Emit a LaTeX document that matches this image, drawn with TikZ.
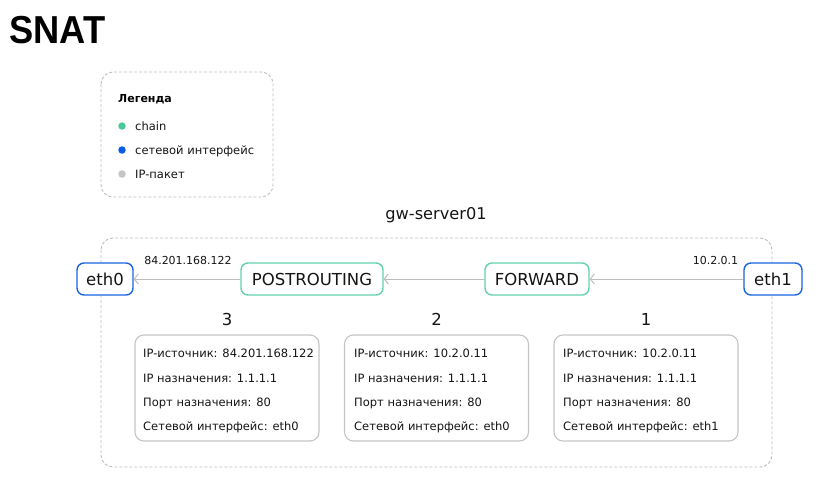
\documentclass[tikz,border=0pt]{standalone}
\usepackage{fontspec}
\usepackage{graphicx}
\setmainfont{DejaVu Sans}
\newfontfamily\titlefont{Liberation Sans}
\usetikzlibrary{arrows.meta}
\definecolor{chaingreen}{HTML}{63D2AC}
\definecolor{ifblue}{HTML}{1A66E0}
\definecolor{boxgrey}{HTML}{C4C4C4}
\definecolor{dashgrey}{HTML}{BDBDBD}
\definecolor{arrgrey}{HTML}{BDBDBD}
\definecolor{dotgreen}{HTML}{4CC99A}
\definecolor{dotblue}{HTML}{0A5CE6}
\definecolor{dotgrey}{HTML}{C4C4C4}
\definecolor{txt}{HTML}{141414}
\begin{document}
\begin{tikzpicture}[x=1pt,y=-1pt,
  every node/.style={text=txt},
  chainnode/.style={draw=chaingreen, line width=1.4pt, rounded corners=7pt, minimum height=32pt, inner sep=0pt, fill=white, font=\fontsize{16.5}{20}\selectfont},
  ifnode/.style={draw=ifblue, line width=1.4pt, rounded corners=7pt, minimum height=32pt, inner sep=0pt, fill=white, font=\fontsize{16.5}{20}\selectfont},
  infobox/.style={draw=boxgrey, line width=1.1pt, rounded corners=9pt, minimum width=184pt, minimum height=106pt, inner sep=0pt},
  infotext/.style={font=\fontsize{11.5}{24.3}\selectfont, align=left, inner sep=0pt, anchor=north west},
  dashbox/.style={draw=dashgrey, dash pattern=on 3pt off 2pt, line width=0.9pt, rounded corners=12pt},
  flow/.style={draw=arrgrey, line width=1pt, -{Straight Barb[length=4pt,width=10pt]}},
  lbl/.style={inner sep=0pt, anchor=base, font=\fontsize{11}{13}\selectfont},
  numlbl/.style={inner sep=0pt, anchor=base, font=\fontsize{16.5}{20}\selectfont},
  legtext/.style={inner sep=0pt, anchor=base west, font=\fontsize{11.5}{14}\selectfont},
  legdot/.style={circle, inner sep=0pt, minimum size=7.5pt},
]
\useasboundingbox (0,0) rectangle (823,493);

% title
\node[inner sep=0pt, anchor=base west, font=\titlefont\bfseries\fontsize{39}{44}\selectfont, text=black] (title) at (9,43) {\scalebox{0.93}[1]{SNAT}};

% legend
\draw[dashbox] (101,72) rectangle (273,197);
\node[inner sep=0pt, anchor=base west, font=\bfseries\fontsize{11}{13}\selectfont, text=black] (legtitle) at (118,102) {Легенда};
\node[legdot, fill=dotgreen] (d1) at (122,126) {};
\node[legdot, fill=dotblue] (d2) at (122,150) {};
\node[legdot, fill=dotgrey] (d3) at (122,174) {};
\node[legtext] (l1) at (135,130) {chain};
\node[legtext] (l2) at (135,154) {сетевой интерфейс};
\node[legtext] (l3) at (135,178) {IP-пакет};

% server box
\node[inner sep=0pt, anchor=base, font=\fontsize{16.2}{20}\selectfont] (srv) at (436,219) {gw-server01};
\draw[dashbox] (101,238) rectangle (772,467);

% chain nodes
\node[ifnode, minimum width=56pt] (eth0) at (105,279) {eth0};
\node[chainnode, minimum width=142pt] (post) at (312,279) {POSTROUTING};
\node[chainnode, minimum width=104pt] (fwd) at (537,279) {FORWARD};
\node[ifnode, minimum width=58pt] (eth1) at (773,279) {eth1};

\draw[flow] (eth1) -- (fwd);
\draw[flow] (fwd) -- (post);
\draw[flow] (post) -- (eth0);

\node[lbl] (ipout) at (188,264.5) {84.201.168.122};
\node[lbl] (ipin) at (715.5,264.5) {10.2.0.1};

% numbers
\node[numlbl] (n3) at (227,325) {3};
\node[numlbl] (n2) at (436.5,325) {2};
\node[numlbl] (n1) at (646,325) {1};

% info boxes
\node[infobox] (b3) at (227,388) {};
\node[infobox] (b2) at (436.5,388) {};
\node[infobox] (b1) at (646,388) {};

\node[infotext] (t3) at (143,349) {IP-источник: 84.201.168.122\\IP назначения: 1.1.1.1\\Порт назначения: 80\\Сетевой интерфейс: eth0};
\node[infotext] (t2) at (354,349) {IP-источник: 10.2.0.11\\IP назначения: 1.1.1.1\\Порт назначения: 80\\Сетевой интерфейс: eth0};
\node[infotext] (t1) at (563,349) {IP-источник: 10.2.0.11\\IP назначения: 1.1.1.1\\Порт назначения: 80\\Сетевой интерфейс: eth1};
\end{tikzpicture}
\end{document}
